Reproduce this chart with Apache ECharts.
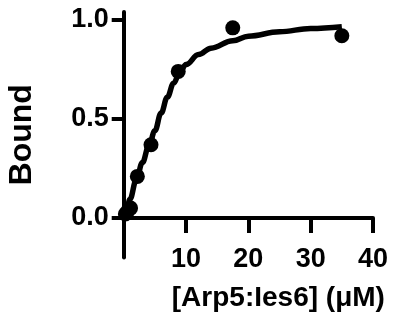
<!DOCTYPE html>
<html>
<head>
<meta charset="utf-8">
<script src="https://cdn.jsdelivr.net/npm/echarts@6/dist/echarts.min.js"></script>
<style>
html,body{margin:0;padding:0;background:#fff;}
#c{width:394px;height:329px;}
</style>
</head>
<body>
<div id="c"></div>
<script>
// Measured points
const concX = [0.27, 0.55, 1.1, 2.19, 4.38, 8.75, 17.5, 35];
const boundY = [0.02, 0.03, 0.05, 0.21, 0.37, 0.74, 0.96, 0.92];
// Fitted curve
const fitX = [0, 0.5, 1, 2, 3, 4, 5, 6, 7, 8, 9, 10, 12, 14, 17.5, 20, 25, 30, 35];
const fitY = [0, 0.045, 0.095, 0.19, 0.28, 0.36, 0.44, 0.53, 0.61, 0.68, 0.735, 0.775, 0.825, 0.857, 0.895, 0.918, 0.94, 0.957, 0.966];
// Tick labels
const xTicks = [10, 20, 30, 40];
const yTicks = [0, 0.5, 1.0];
const xName = '[Arp5:Ies6] (\u03BCM)';
const yName = 'Bound';

const FONT = '"Liberation Sans", Arial, Helvetica, sans-serif';
const chart = echarts.init(document.getElementById('c'), null, {renderer: 'canvas'});
chart.setOption({
  animation: false,
  backgroundColor: '#fff',
  grid: {left: 123.7, right: 21, top: 12, bottom: 71.4, containLabel: false, outerBoundsMode: 'none'},
  xAxis: {
    type: 'value', min: 0, max: 40, interval: 10,
    axisLine: {onZero: true, lineStyle: {color: '#000', width: 4}},
    axisTick: {show: true, inside: false, length: 15, customValues: xTicks, lineStyle: {color: '#000', width: 4}},
    axisLabel: {customValues: xTicks, margin: -12, color: '#000', fontSize: 27, fontWeight: 'bold', fontFamily: FONT},
    splitLine: {show: false},
    name: xName, nameLocation: 'middle', nameGap: 27,
    nameTextStyle: {color: '#000', fontSize: 28, fontWeight: 'bold', fontFamily: FONT, padding: [0, 0, 0, 60]}
  },
  yAxis: {
    type: 'value', min: -0.2, max: 1.04,
    axisLine: {onZero: false, lineStyle: {color: '#000', width: 4}},
    axisTick: {show: true, inside: false, length: 12, customValues: yTicks, lineStyle: {color: '#000', width: 4}},
    axisLabel: {customValues: yTicks, margin: 15, color: '#000', fontSize: 27, fontWeight: 'bold', fontFamily: FONT,
      formatter: v => v.toFixed(1)},
    splitLine: {show: false},
    name: yName, nameLocation: 'middle', nameGap: 86,
    nameTextStyle: {color: '#000', fontSize: 32, fontWeight: 'bold', fontFamily: FONT}
  },
  series: [
    {
      type: 'line', data: fitX.map((x, i) => [x, fitY[i]]),
      smooth: 0.4, smoothMonotone: 'x', showSymbol: false, clip: false,
      lineStyle: {color: '#000', width: 5.5}, z: 3
    },
    {
      type: 'scatter', data: concX.map((x, i) => [x, boundY[i]]),
      symbol: 'circle', symbolSize: 15, clip: false,
      itemStyle: {color: '#000', opacity: 1}, z: 4
    }
  ]
});
</script>
</body>
</html>
